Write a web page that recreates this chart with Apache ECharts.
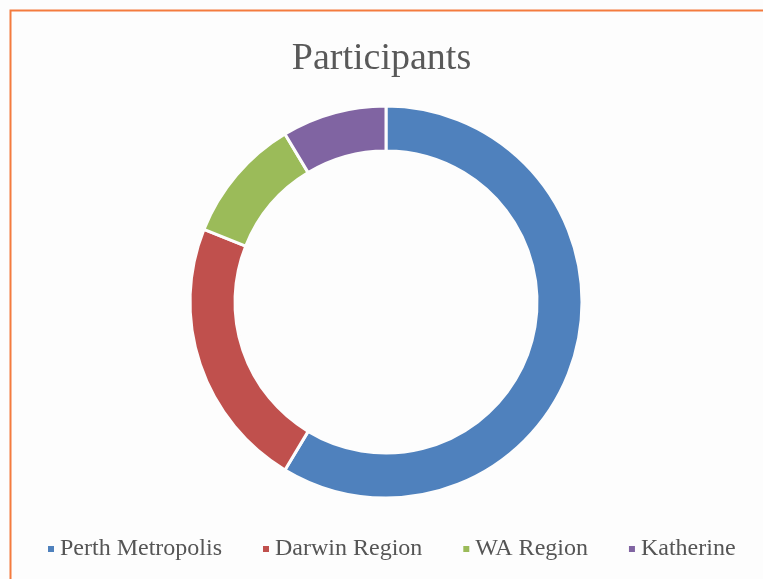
<!DOCTYPE html>
<html>
<head>
<meta charset="utf-8">
<script src="https://cdn.jsdelivr.net/npm/echarts@6/dist/echarts.min.js"></script>
<style>
  html, body { margin: 0; padding: 0; background: #fff; }
  #chart { width: 763px; height: 579px; }
</style>
</head>
<body>
<div id="chart"></div>
<script>
// participants per region
let regions = ['Perth Metropolis', 'Darwin Region', 'WA Region', 'Katherine'];
let counts = [34, 13, 6, 5];
let colors = ['#4F81BD', '#C0504D', '#9BBB59', '#8064A2'];

let myChart = echarts.init(document.getElementById('chart'));

let option = {
    backgroundColor: '#fdfdfd',
    color: colors,
    title: {
        text: 'Participants',
        left: 'center',
        top: 35,
        textStyle: {
            fontFamily: 'Liberation Serif',
            fontSize: 38,
            fontWeight: 'normal',
            color: '#595959'
        }
    },
    legend: {
        left: 41,
        top: 532,
        icon: 'rect',
        itemWidth: 8,
        itemHeight: 8,
        itemGap: 39,
        textStyle: {
            fontFamily: 'Liberation Serif',
            fontSize: 24,
            color: '#555555'
        },
        data: regions
    },
    graphic: [
        {
            type: 'rect',
            shape: { x: 10.5, y: 10.5, width: 800, height: 600 },
            style: { fill: 'none', stroke: '#F47B3E', lineWidth: 2 },
            silent: true
        }
    ],
    series: [
        {
            name: 'Participants',
            type: 'pie',
            center: [386, 302],
            radius: [151, 196],
            startAngle: 90,
            clockwise: true,
            label: { show: false },
            labelLine: { show: false },
            itemStyle: { borderColor: '#fdfdfd', borderWidth: 3 },
            emphasis: { disabled: true },
            data: regions.map((name, i) => ({ name: name, value: counts[i] }))
        }
    ]
};

myChart.setOption(option);
</script>
</body>
</html>
